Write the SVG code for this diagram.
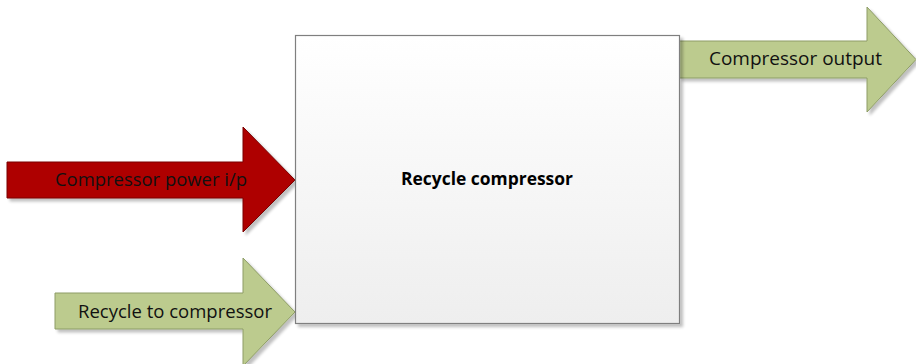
<svg xmlns="http://www.w3.org/2000/svg" width="916" height="364" viewBox="0 0 916 364">
  <defs>
    <linearGradient id="boxFill" x1="0" y1="0" x2="0" y2="1">
      <stop offset="0" stop-color="#ffffff"/>
      <stop offset="1" stop-color="#eeeeee"/>
    </linearGradient>
    <filter id="shadow" x="-5%" y="-5%" width="115%" height="115%">
      <feGaussianBlur in="SourceAlpha" stdDeviation="1.5"/>
      <feOffset dx="3" dy="3" result="b"/>
      <feComponentTransfer><feFuncA type="linear" slope="0.25"/></feComponentTransfer>
      <feMerge><feMergeNode/><feMergeNode in="SourceGraphic"/></feMerge>
    </filter>
  </defs>
  <style>
    .lbl { font-family: "Open Sans", "Liberation Sans", Arial, sans-serif; font-size: 18px; fill: #111111; text-anchor: middle; }
    .title { font-family: "Open Sans", "Liberation Sans", Arial, sans-serif; font-size: 17px; font-weight: bold; fill: #000000; text-anchor: middle; }
    .green { fill: #bccb8e; stroke: #8d9c66; stroke-width: 1; filter: url(#shadow); }
    .red { fill: #ae0000; stroke: #7a0000; stroke-width: 1; filter: url(#shadow); }
    .box { fill: url(#boxFill); stroke: #7f7f7f; stroke-width: 1.2; filter: url(#shadow); }
  </style>
  <rect width="916" height="364" fill="#ffffff"/>
  <g id="connectors">
    <g id="power-input">
      <polygon class="red" points="7,162 243,162 243,127 295,180 243,232 243,198 7,198"/>
      <text class="lbl" x="151" y="186" textLength="192" lengthAdjust="spacingAndGlyphs">Compressor power i/p</text>
    </g>
    <g id="recycle-input">
      <polygon class="green" points="55,293 243,293 243,258 295,312 243,366 243,329 55,329"/>
      <text class="lbl" x="175" y="318" textLength="194" lengthAdjust="spacingAndGlyphs">Recycle to compressor</text>
    </g>
    <g id="output">
      <polygon class="green" points="679,41 867,41 867,7 916,59.5 867,112 867,78 679,78"/>
      <text class="lbl" x="795.5" y="65" textLength="173" lengthAdjust="spacingAndGlyphs">Compressor output</text>
    </g>
  </g>
  <g id="recycle-compressor">
    <rect class="box" x="295.5" y="35.5" width="384" height="288"/>
    <text class="title" x="487" y="185" textLength="172" lengthAdjust="spacingAndGlyphs">Recycle compressor</text>
  </g>
</svg>
